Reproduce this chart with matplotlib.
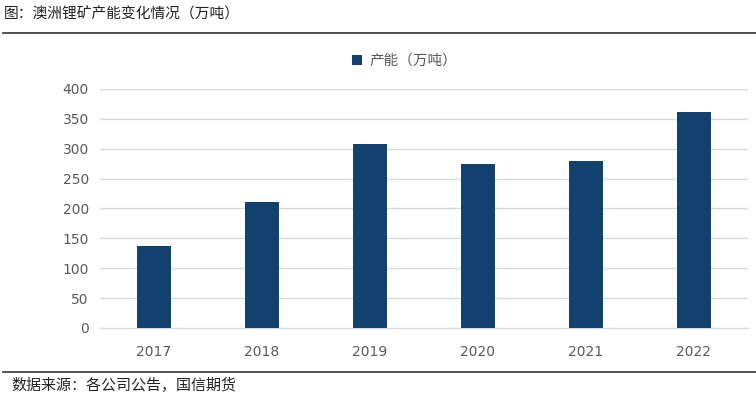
import matplotlib
matplotlib.use('Agg')
import matplotlib.pyplot as plt
from matplotlib.lines import Line2D
import numpy as np

plt.rcParams['font.family'] = ['Noto Sans CJK SC', 'DejaVu Sans']

years = ['2017', '2018', '2019', '2020', '2021', '2022']
capacity = [137, 211, 308, 274, 279, 362]
yticks = [0, 50, 100, 150, 200, 250, 300, 350, 400]

title = '图：澳洲锂矿产能变化情况（万吨）'
source = '数据来源：各公司公告，国信期货'
series_name = '产能（万吨）'

bar_color = '#12406F'
grid_color = '#D9D9D9'
text_color = '#595959'

fig = plt.figure(figsize=(7.56, 3.99), dpi=100)
ax = fig.add_axes([0.1323, 0.178, 0.857, 0.599])

x = np.arange(len(years))
ax.bar(x, capacity, width=0.315, color=bar_color, label=series_name, zorder=3)

ax.set_xlim(-0.5, len(years) - 0.5)
ax.set_ylim(0, 400)
ax.set_yticks(yticks)
ax.set_xticks(x)
ax.set_xticklabels(years)
ax.yaxis.grid(True, color=grid_color, linewidth=1, zorder=0)
for s in ['top', 'right', 'left']:
    ax.spines[s].set_visible(False)
ax.spines['bottom'].set_color(grid_color)
ax.tick_params(axis='both', length=0, labelsize=10, colors=text_color)
ax.tick_params(axis='x', pad=12)
ax.tick_params(axis='y', pad=8)
for lab in ax.get_xticklabels() + ax.get_yticklabels():
    lab.set_family('DejaVu Sans')

leg = fig.legend(loc='center', bbox_to_anchor=(0.535, 0.847), frameon=False,
                 fontsize=10.5, handlelength=0.7, handleheight=0.7, handletextpad=0.5)
for t in leg.get_texts():
    t.set_color(text_color)

fig.text(0.005, 0.965, title, fontsize=10.6, color='#222222', va='center', ha='left')
fig.text(0.015, 0.035, source, fontsize=10.8, color='#222222', va='center', ha='left')
fig.add_artist(Line2D([0.004, 1.0], [0.917, 0.917], color='#333333', linewidth=1.2))
fig.add_artist(Line2D([0.004, 1.0], [0.068, 0.068], color='#333333', linewidth=1.2))

fig.savefig('out.png', dpi=100)
plt.close(fig)
